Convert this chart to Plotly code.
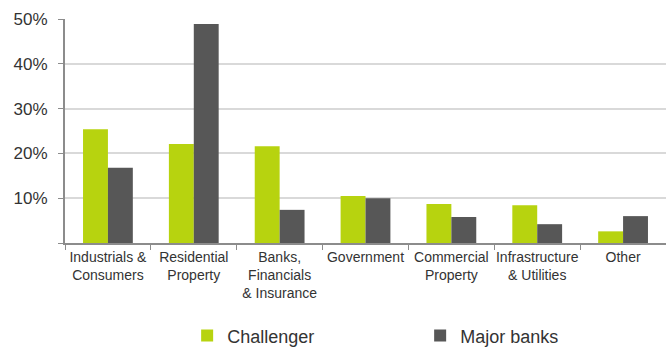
import plotly.graph_objects as go

categories = [
    "Industrials &<br>Consumers",
    "Residential<br>Property",
    "Banks,<br>Financials<br>& Insurance",
    "Government",
    "Commercial<br>Property",
    "Infrastructure<br>& Utilities",
    "Other",
]
challenger = [25.4, 22.1, 21.6, 10.5, 8.7, 8.4, 2.6]
major_banks = [16.8, 48.9, 7.4, 10.0, 5.8, 4.2, 6.0]

y_ticks = [0, 10, 20, 30, 40, 50]
y_ticklabels = ["", "10%", "20%", "30%", "40%", "50%"]

GREEN = "#b7d30f"
DARK = "#575757"
TEXT = "#333333"
FONT = "Liberation Sans, Arial, sans-serif"

fig = go.Figure()
fig.add_trace(go.Bar(x=categories, y=challenger, name="Challenger",
                     marker=dict(color=GREEN, line=dict(width=0))))
fig.add_trace(go.Bar(x=categories, y=major_banks, name="Major banks",
                     marker=dict(color=DARK, line=dict(width=0))))

fig.update_layout(
    width=666, height=348,
    margin=dict(l=65, r=0, t=19, b=105),
    plot_bgcolor="white", paper_bgcolor="white",
    barmode="group", bargap=0.42, bargroupgap=0,
    font=dict(family=FONT, color=TEXT),
    showlegend=True,
    legend=dict(
        orientation="h",
        xref="container", yref="container",
        x=0.281, xanchor="left",
        y=0.088, yanchor="top",
        font=dict(size=18, color=TEXT, family=FONT),
        entrywidth=188, entrywidthmode="pixels",
        bgcolor="rgba(0,0,0,0)",
    ),
)

fig.update_xaxes(
    type="category",
    showline=True, linecolor="#8c8c8c", linewidth=2,
    ticks="outside", tickson="boundaries", ticklen=5, tickcolor="#8c8c8c", tickwidth=1,
    tickfont=dict(size=14, color=TEXT, family=FONT),
    showgrid=False, tickangle=0,
)
fig.update_yaxes(
    range=[0, 50],
    tickvals=y_ticks, ticktext=y_ticklabels,
    showline=True, linecolor="#8c8c8c", linewidth=2,
    ticks="outside", ticklen=5, tickcolor="#8c8c8c", tickwidth=1,
    showgrid=True, gridcolor="#d9d9d9", gridwidth=2,
    zeroline=False,
    tickfont=dict(size=17, color=TEXT, family=FONT),
    ticklabelstandoff=7,
)

fig.write_html("out.html")
